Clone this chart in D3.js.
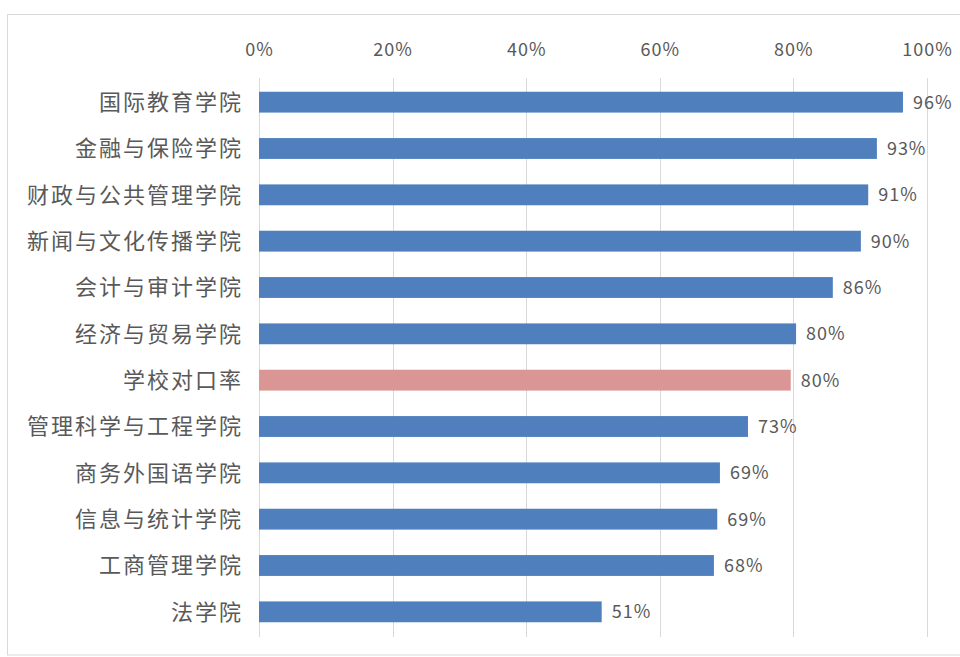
<!DOCTYPE html>
<html>
<head>
<meta charset="utf-8">
<script src="https://cdn.jsdelivr.net/npm/d3@7"></script>
<style>
	body{margin:0;background:#fff;}
	svg{display:block;}
	text{font-family:"Noto Sans CJK SC","Microsoft YaHei",sans-serif;fill:#595959;}
</style>
</head>
<body>
<svg id="chart" width="960" height="657"></svg>
<script>
const colleges = ['国际教育学院','金融与保险学院','财政与公共管理学院','新闻与文化传播学院','会计与审计学院','经济与贸易学院','学校对口率','管理科学与工程学院','商务外国语学院','信息与统计学院','工商管理学院','法学院'];
const rates = [0.964,0.925,0.912,0.901,0.859,0.804,0.796,0.732,0.690,0.686,0.681,0.513];
const rateLabels = ['96%','93%','91%','90%','86%','80%','80%','73%','69%','69%','68%','51%'];
const tickValues = [0,0.2,0.4,0.6,0.8,1.0];
const schoolRow = '学校对口率';

const svg = d3.select('#chart');
const blue = '#4f7fbd';
const pink = '#d99694';
const grid = '#d9d9d9';

// outer frame
svg.append('rect')
	.attr('x',7.5).attr('y',14.5)
	.attr('width',960).attr('height',640.5)
	.attr('fill','none').attr('stroke',grid);

const xScale = d3.scaleLinear().domain([0,1]).range([259,927]);
const yScale = d3.scaleBand().domain(colleges).range([79,635]).paddingInner(0.55).paddingOuter(0.275);

// gridlines
svg.append('g').selectAll('line')
	.data(tickValues)
	.join('line')
		.attr('x1',d=>Math.round(xScale(d))+0.5)
		.attr('x2',d=>Math.round(xScale(d))+0.5)
		.attr('y1',78).attr('y2',637)
		.attr('stroke',grid);

// top axis
const axis = d3.axisTop(xScale).tickValues(tickValues).tickFormat(d3.format('.0%')).tickSize(0).tickPadding(0);
const axisG = svg.append('g').attr('transform','translate(0,56)').call(axis);
axisG.select('.domain').remove();
axisG.selectAll('text').attr('font-size',18).attr('letter-spacing',1).style('font-family','"Noto Sans CJK SC",sans-serif').attr('fill','#595959');

// bars
svg.append('g').selectAll('rect')
	.data(colleges)
	.join('rect')
		.attr('x',xScale(0))
		.attr('y',d=>yScale(d))
		.attr('height',yScale.bandwidth())
		.attr('width',(d,i)=>xScale(rates[i])-xScale(0))
		.attr('fill',d=>d==schoolRow?pink:blue);

// category labels
svg.append('g').selectAll('text')
	.data(colleges)
	.join('text')
		.attr('x',243)
		.attr('y',d=>yScale(d)+yScale.bandwidth()/2)
		.attr('dy','0.36em')
		.attr('text-anchor','end')
		.attr('font-size',22)
		.attr('letter-spacing',2)
		.text(d=>d);

// value labels
svg.append('g').selectAll('text')
	.data(colleges)
	.join('text')
		.attr('x',(d,i)=>xScale(rates[i])+10)
		.attr('y',d=>yScale(d)+yScale.bandwidth()/2)
		.attr('dy','0.36em')
		.attr('font-size',18)
		.attr('letter-spacing',1)
		.attr('fill','#4a4a4a')
		.text((d,i)=>rateLabels[i]);
</script>
</body>
</html>
